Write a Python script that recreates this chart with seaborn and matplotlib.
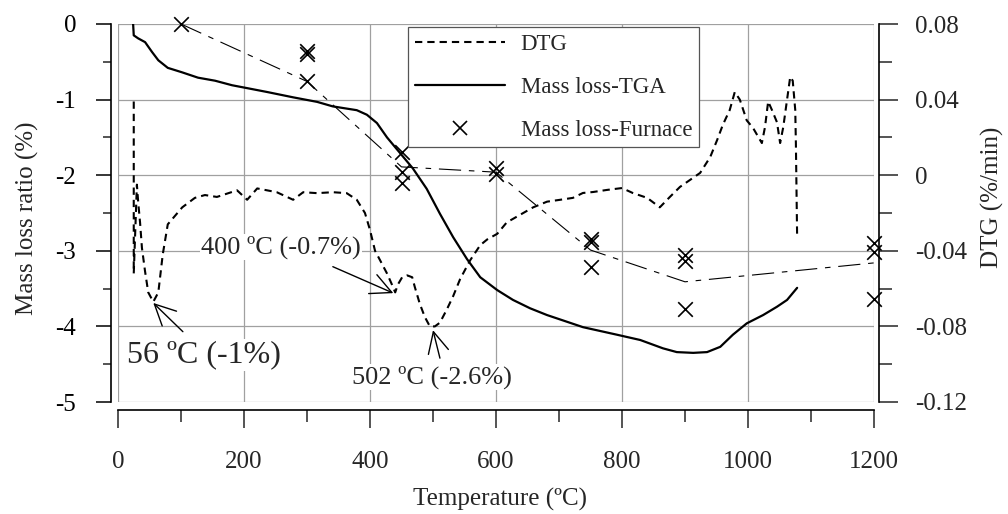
import matplotlib
matplotlib.use("Agg")
import matplotlib.pyplot as plt
import numpy as np
import seaborn as sns
from matplotlib.lines import Line2D
from matplotlib.ticker import FuncFormatter, MultipleLocator

# TGA mass loss curve (left axis)
tga_temp = [24, 25, 32, 43, 54, 64, 79, 102, 127, 154, 181, 206, 237, 278, 316,
            341, 379, 395, 411, 427, 448, 468, 490, 511, 532, 554, 575, 602, 627,
            654, 681, 706, 738, 792, 829, 865, 887, 913, 935, 956, 976, 998, 1024,
            1046, 1062, 1078]
tga_mass = [0.0, -0.15, -0.19, -0.24, -0.37, -0.48, -0.58, -0.64, -0.71, -0.75,
            -0.81, -0.85, -0.90, -0.97, -1.03, -1.09, -1.14, -1.20, -1.31, -1.50,
            -1.71, -1.91, -2.18, -2.51, -2.82, -3.11, -3.35, -3.52, -3.65, -3.76,
            -3.85, -3.92, -4.01, -4.11, -4.18, -4.29, -4.34, -4.35, -4.34, -4.27,
            -4.11, -3.96, -3.85, -3.74, -3.65, -3.49]

# DTG curve (right axis)
dtg_temp = [25, 25, 30, 32, 35, 38, 43, 48, 56, 64, 71, 79, 102, 122, 138, 157,
            189, 205, 221, 252, 278, 294, 316, 341, 363, 379, 392, 400, 408, 416,
            427, 435, 440, 444, 451, 459, 467, 471, 479, 487, 495, 503, 511, 522,
            532, 543, 559, 575, 586, 602, 617, 638, 659, 681, 702, 722, 738, 754,
            776, 800, 817, 840, 860, 876, 892, 908, 924, 940, 951, 960, 971, 979,
            987, 998, 1008, 1022, 1027, 1032, 1038, 1046, 1051, 1056, 1062, 1067,
            1071, 1075, 1076, 1078]
dtg_rate = [0.039, -0.052, -0.005, -0.014, -0.025, -0.0385, -0.051, -0.062, -0.067,
            -0.062, -0.042, -0.026, -0.017, -0.012, -0.0105, -0.0115, -0.008, -0.013,
            -0.007, -0.009, -0.013, -0.009, -0.0095, -0.009, -0.0095, -0.013, -0.020,
            -0.029, -0.040, -0.045, -0.052, -0.058, -0.062, -0.058, -0.054, -0.053,
            -0.054, -0.059, -0.068, -0.075, -0.080, -0.080, -0.078, -0.071, -0.064,
            -0.055, -0.045, -0.037, -0.034, -0.031, -0.025, -0.021, -0.017, -0.014,
            -0.013, -0.012, -0.0094, -0.0089, -0.0078, -0.0068, -0.0094, -0.012,
            -0.017, -0.0115, -0.0062, -0.0025, 0.0012, 0.0096, 0.0186, 0.0266,
            0.0345, 0.044, 0.040, 0.029, 0.025, 0.017, 0.0255, 0.039, 0.0345, 0.028,
            0.017, 0.0255, 0.040, 0.052, 0.050, 0.0345, 0.017, -0.033]

# furnace measurements (left axis)
furn_temp = [100, 300, 300, 300, 450, 450, 450, 600, 600, 750, 750, 750,
             900, 900, 900, 1200, 1200, 1200]
furn_mass = [0.0, -0.36, -0.40, -0.76, -1.69, -1.96, -2.10, -1.90, -1.98,
             -2.84, -2.88, -3.21, -3.06, -3.13, -3.77, -2.90, -3.01, -3.64]

# trend line through the furnace results
trend_temp = [100, 300, 450, 600, 750, 900, 1200]
trend_mass = [0.0, -0.76, -1.89, -1.96, -2.99, -3.41, -3.16]

# peak annotations: text, text position, arrow tail, arrow head (left-axis units)
notes = [
    ("56 ºC (-1%)", (136, -4.38), (103, -4.07), (56, -3.69), 23),
    ("400 ºC (-0.7%)", (259, -2.95), (341, -3.21), (437, -3.56), 19),
    ("502 ºC (-2.6%)", (498, -4.67), (511, -4.42), (500, -4.05), 19),
]

sns.set_theme(style="white")
plt.rcParams["font.family"] = ["Liberation Serif", "DejaVu Serif"]
plt.rcParams["axes.unicode_minus"] = False

fig = plt.figure(figsize=(10.08, 5.14), dpi=100)
ax = fig.add_axes([118 / 1008, 112 / 514, 756 / 1008, 378 / 514])
ax2 = ax.twinx()

sns.lineplot(x=tga_temp, y=tga_mass, estimator=None, sort=False, color="black",
             linewidth=1.6, ax=ax)
sns.lineplot(x=trend_temp, y=trend_mass, estimator=None, sort=False, color="black",
             linewidth=0.8, linestyle=(0, (20, 7, 5, 7)), ax=ax)
sns.scatterplot(x=furn_temp, y=furn_mass, marker="x", s=110, color="black",
                linewidth=1.2, ax=ax, zorder=4, clip_on=False)
sns.lineplot(x=dtg_temp, y=dtg_rate, estimator=None, sort=False, color="black",
             linewidth=1.5, linestyle=(0, (3.5, 2.4)), ax=ax2)

ax.set_xlim(0, 1200)
ax.set_ylim(-5, 0)
ax2.set_ylim(-0.12, 0.08)

ax.xaxis.set_major_locator(MultipleLocator(200))
ax.xaxis.set_minor_locator(MultipleLocator(100))
ax.yaxis.set_major_locator(MultipleLocator(1))
ax.yaxis.set_minor_locator(MultipleLocator(0.5))
ax2.yaxis.set_major_locator(MultipleLocator(0.04))
ax2.yaxis.set_minor_locator(MultipleLocator(0.02))
ax2.yaxis.set_major_formatter(
    FuncFormatter(lambda v, p: "0" if abs(v) < 1e-9 else f"{v:.2f}"))

ax.set_axisbelow(True)
ax.grid(True, which="major", color="#a0a0a0", linewidth=0.9)
ax2.grid(False)

for s in ("top", "right"):
    ax.spines[s].set_visible(False)
for s in ("top", "left", "bottom"):
    ax2.spines[s].set_visible(False)
ax.spines["left"].set_position(("outward", 5))
ax.spines["bottom"].set_position(("outward", 6))
ax2.spines["right"].set_position(("outward", 3.6))
for sp in (ax.spines["left"], ax.spines["bottom"], ax2.spines["right"]):
    sp.set_color("black")
    sp.set_linewidth(1.2)

ax.tick_params(axis="y", which="major", direction="out", length=11, width=1.1,
               pad=14, labelsize=18, left=True, colors="black")
ax.tick_params(axis="y", which="minor", direction="out", length=6, width=1.1,
               left=True)
ax.tick_params(axis="x", which="major", direction="out", length=13, width=1.1,
               pad=16, labelsize=18, bottom=True)
ax.tick_params(axis="x", which="minor", direction="out", length=8.5, width=1.1,
               bottom=True)
ax2.tick_params(axis="y", which="major", direction="out", length=14, width=1.1,
                pad=12, labelsize=18, right=True)
ax2.tick_params(axis="y", which="minor", direction="out", length=9, width=1.1,
                right=True)

ax.set_xlabel("Temperature (ºC)", fontsize=18)
ax.set_ylabel("Mass loss ratio (%)", fontsize=18)
ax2.set_ylabel("DTG (%/min)", fontsize=18)
ax.xaxis.set_label_coords(0.505, -0.228)
ax.yaxis.set_label_coords(-0.105, 0.487)
ax2.yaxis.set_label_coords(1.142, 0.542)

for text, pos, tail, head, size in notes:
    ax.text(pos[0], pos[1], text, ha="center", va="center", fontsize=size,
            bbox=dict(facecolor="white", edgecolor="none", pad=1), zorder=3)
    ax.annotate("", xy=head, xytext=tail,
                arrowprops=dict(arrowstyle="->,head_length=0.75,head_width=0.37",
                                color="black", lw=1.0, shrinkA=0, shrinkB=0,
                                mutation_scale=20))

handles = [
    Line2D([], [], color="black", linewidth=1.5, linestyle=(0, (3.5, 2.4))),
    Line2D([], [], color="black", linewidth=1.6),
    Line2D([], [], color="black", linestyle="none", marker="x", markersize=10,
           markeredgewidth=1.2),
]
labels = ["DTG", "Mass loss-TGA", "Mass loss-Furnace"]
for a in (ax, ax2):
    if a.get_legend() is not None:
        a.get_legend().remove()
leg = ax2.legend(handles, labels, loc="upper left", bbox_to_anchor=(0.384, 0.992),
                 borderaxespad=0, fontsize=16.5, handlelength=3.9,
                 handletextpad=0.7, labelspacing=0.95, borderpad=0.3,
                 frameon=True, fancybox=False, framealpha=1)
leg.get_frame().set_edgecolor("#555555")
leg.get_frame().set_linewidth(0.9)

fig.savefig("out.png", dpi=100)
